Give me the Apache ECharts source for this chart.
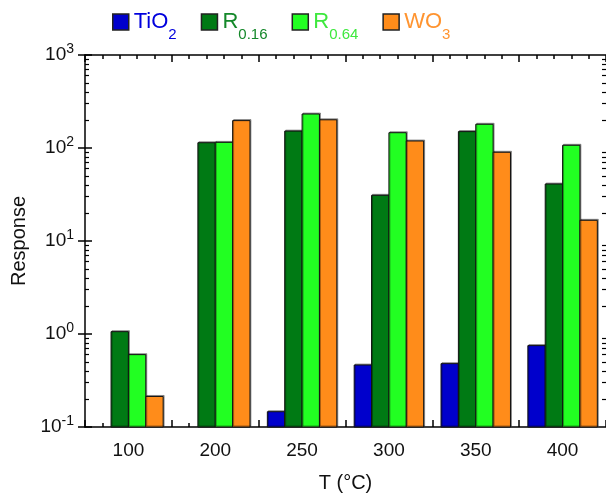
<!DOCTYPE html>
<html><head><meta charset="utf-8">
<script src="https://cdn.jsdelivr.net/npm/echarts@6/dist/echarts.min.js"></script>
<style>html,body{margin:0;padding:0;background:#fff}#c{width:606px;height:496px}</style>
</head><body><div id="c"></div>
<script>
// ---- data ----
const categories = ['100', '200', '250', '300', '350', '400'];
const seriesNames = ['TiO2', 'R0.16', 'R0.64', 'WO3'];
const tio2 = [null, null, 0.146, 0.464, 0.48, 0.75];
const r016 = [1.06, 114, 152, 31, 150, 41];
const r064 = [0.60, 115, 232, 146, 180, 107];
const wo3  = [0.213, 197, 201, 119, 90, 16.7];
const yMin = 0.1, yMax = 1000;

// ---- style ----
const FONT = 'Liberation Sans, Arial, Helvetica, sans-serif';
const barColors = ['#0000cc', '#007a14', '#22ff22', '#ff8c1a'];
const textColors = ['#0000dd', '#14882a', '#3ee83e', '#ff9430'];
const legendMain = ['TiO', 'R', 'R', 'WO'];
const legendSub = ['2', '0.16', '0.64', '3'];
const groupFill = 0.8; // fraction of category band occupied by a bar group

const minorExp = [];
for (let d = Math.log10(yMin); d < Math.log10(yMax); d++) {
  for (let k = 2; k <= 9; k++) minorExp.push(d + Math.log10(k));
}

const legendRich = {};
barColors.forEach((c, i) => {
  legendRich['m' + i] = { fontSize: 22, color: textColors[i], fontFamily: FONT };
  legendRich['s' + i] = { fontSize: 15, color: textColors[i], fontFamily: FONT, padding: [25, 0, 0, 0] };
});

const axLine = { show: true, onZero: false, lineStyle: { color: '#000', width: 1.5 } };
const majorTick = { show: true, inside: true, length: 7, lineStyle: { color: '#000', width: 1.5 } };
const noLabel = { show: false };
const noSplit = { show: false };

function catAxis(pos, withLabels) {
  const a = {
    type: 'category', data: categories, position: pos, gridIndex: 0,
    axisLine: axLine, axisTick: majorTick, splitLine: noSplit,
    axisLabel: withLabels ? { fontSize: 19, color: '#111', margin: 14, fontFamily: FONT } : noLabel
  };
  if (withLabels) {
    a.name = 'T (°C)'; a.nameLocation = 'middle'; a.nameGap = 46;
    a.nameTextStyle = { fontSize: 20, color: '#111', fontFamily: FONT };
  }
  return a;
}
function minorXAxis(pos) {
  return {
    type: 'value', min: 0, max: categories.length, interval: 1, position: pos,
    axisLine: { show: false, onZero: false }, axisTick: { show: false, inside: true }, axisLabel: noLabel, splitLine: noSplit,
    minorTick: { show: true, splitNumber: 5, length: 4, lineStyle: { color: '#000', width: 1.5 } }
  };
}
function logAxis(pos, withLabels) {
  const a = {
    type: 'log', logBase: 10, min: yMin, max: yMax, position: pos,
    axisLine: pos === 'left' ? axLine : { show: false }, axisTick: majorTick, splitLine: noSplit, minorTick: { show: false },
    axisLabel: withLabels ? {
      margin: 11, fontFamily: FONT, color: '#111',
      formatter: v => '{b|10}{s|' + Math.round(Math.log10(v)) + '}',
      rich: {
        b: { fontSize: 19, color: '#111', fontFamily: FONT },
        s: { fontSize: 14, color: '#111', fontFamily: FONT, padding: [0, 0, 11, 0] }
      }
    } : noLabel
  };
  if (withLabels) {
    a.name = 'Response'; a.nameLocation = 'middle'; a.nameGap = 49;
    a.nameTextStyle = { fontSize: 20, color: '#111', fontFamily: FONT };
  }
  return a;
}
function minorYAxis(pos) {
  return {
    type: 'value', min: Math.log10(yMin), max: Math.log10(yMax), position: pos,
    axisLine: { show: false }, axisLabel: noLabel, splitLine: noSplit,
    axisTick: { show: true, inside: true, length: 4, customValues: minorExp, lineStyle: { color: '#000', width: 1.2 } }
  };
}

const seriesData = [tio2, r016, r064, wo3];
const nSeries = seriesNames.length;
function makeRender(si) {
  return function (params, api) {
    const ci = api.value(0);
    const v = api.value(1);
    if (!(v > 0)) return null;
    const c0 = api.coord([ci, yMin]);
    const c1 = api.coord([ci + 1, yMin]);
    const band = Math.abs(c1[0] - c0[0]) || api.size([1, 1])[0];
    const top = api.coord([ci, v]);
    const barW = band * groupFill / nSeries;
    const x = c0[0] - band * groupFill / 2 + si * barW;
    return {
      type: 'rect',
      shape: { x: x, y: top[1], width: barW, height: c0[1] - top[1] },
      style: {
        fill: barColors[si], stroke: '#111', lineWidth: 1,
        shadowColor: 'rgba(0,0,0,0.35)', shadowOffsetX: 1, shadowOffsetY: -1, shadowBlur: 0
      }
    };
  };
}
const series = seriesNames.map((n, i) => ({
  name: n, type: 'custom', xAxisIndex: 0, yAxisIndex: 0,
  data: seriesData[i].map((v, ci) => [ci, v == null ? '-' : v]),
  encode: { x: 0, y: 1 },
  itemStyle: { color: barColors[i], borderColor: '#111', borderWidth: 1 },
  renderItem: makeRender(i)
}));

const chart = echarts.init(document.getElementById('c'), null, { renderer: 'canvas' });
chart.setOption({
  animation: false,
  backgroundColor: '#fff',
  textStyle: { fontFamily: FONT },
  grid: { left: 85, right: 0, top: 55, bottom: 69, outerBoundsMode: 'none' },
  legend: {
    left: 107, top: 6, itemWidth: 16, itemHeight: 16, itemGap: 24, itemTextGap: 13,
    icon: 'rect',
    data: seriesNames.map((n, i) => ({ name: n, itemStyle: { color: barColors[i], borderColor: '#222', borderWidth: 1.5 } })),
    formatter: name => {
      const i = seriesNames.indexOf(name);
      return '{m' + i + '|' + legendMain[i] + '}{s' + i + '|' + legendSub[i] + '}';
    },
    textStyle: { rich: legendRich, fontFamily: FONT }
  },
  xAxis: [catAxis('bottom', true), catAxis('top', false), minorXAxis('bottom'), minorXAxis('top')],
  yAxis: [logAxis('left', true), logAxis('right', false), minorYAxis('left'), minorYAxis('right')],
  series: series
});
</script>
</body></html>
